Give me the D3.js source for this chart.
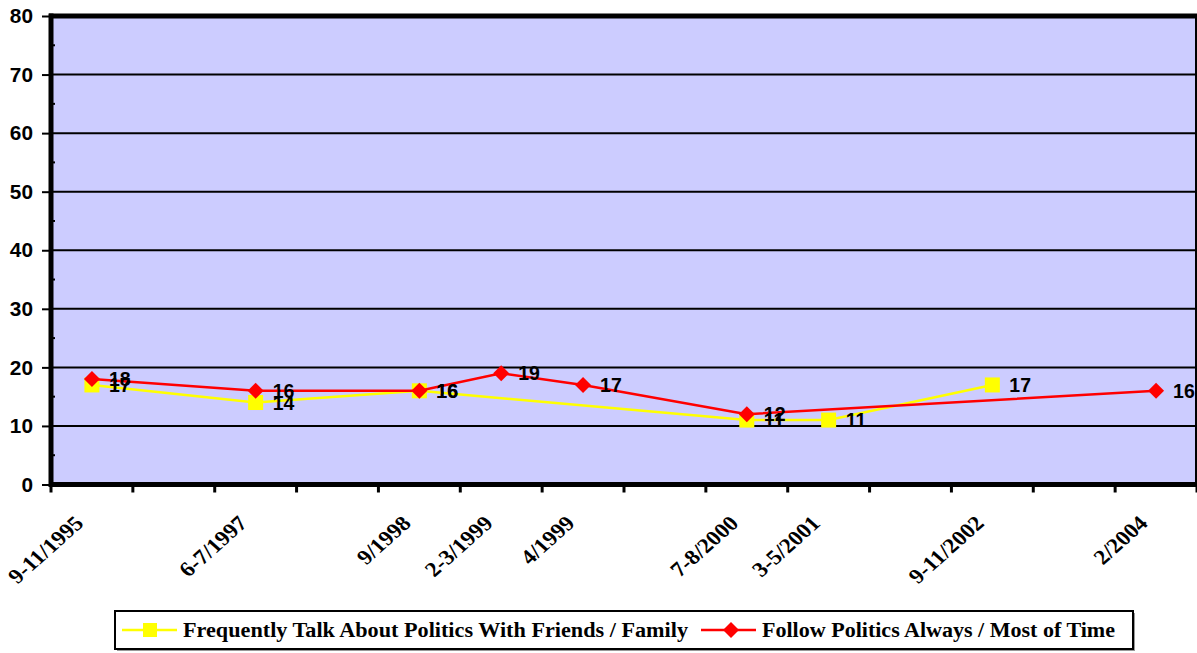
<!DOCTYPE html>
<html><head><meta charset="utf-8">
<script src="https://cdn.jsdelivr.net/npm/d3@7"></script>
<style>body{margin:0;background:#fff}svg{display:block}</style>
</head><body>
<svg id="c" width="1197" height="653"></svg>
<script>
const categories = ["9-11/1995","","6-7/1997","","9/1998","2-3/1999","4/1999","","7-8/2000","3-5/2001","","9-11/2002","","2/2004"];
const talkValues = [17,null,14,null,16,null,null,null,11,11,null,17,null,null];
const followValues = [18,null,16,null,16,19,17,null,12,null,null,null,null,16];
const yTicks = [0,10,20,30,40,50,60,70,80];
const seriesNames = ["Frequently Talk About Politics With Friends / Family","Follow Politics Always / Most of Time"];

const svg = d3.select("#c");
const L = 51, R = 1197, T = 16, B = 484.5;
const x = d3.scaleBand().domain(d3.range(categories.length)).range([L, R]);
const y = d3.scaleLinear().domain([0, 80]).range([B, T]);
const ARIAL = "Arial, 'Liberation Sans', sans-serif";
const TIMES = "'Liberation Serif', 'Times New Roman', serif";

// plot background
svg.append("rect").attr("x", L).attr("y", T).attr("width", R - L).attr("height", B - T).attr("fill", "#CCCCFF");

// gridlines
svg.append("g").selectAll("line").data(yTicks.filter(d => d > 0 && d < 80)).join("line")
  .attr("x1", L).attr("x2", R).attr("y1", d => y(d)).attr("y2", d => y(d))
  .attr("stroke", "#000").attr("stroke-width", 2);

// minor ticks
svg.append("g").selectAll("line").data(d3.range(5, 80, 10)).join("line")
  .attr("x1", L).attr("x2", L + 4).attr("y1", d => y(d)).attr("y2", d => y(d))
  .attr("stroke", "#000").attr("stroke-width", 2);

// top border and right border
svg.append("line").attr("x1", L - 2).attr("x2", R).attr("y1", T).attr("y2", T).attr("stroke", "#000").attr("stroke-width", 5);
svg.append("line").attr("x1", R - 1).attr("x2", R - 1).attr("y1", T).attr("y2", B).attr("stroke", "#000").attr("stroke-width", 2);

// y axis
const yAxis = d3.axisLeft(y).tickValues(yTicks).tickSize(9).tickFormat("");
const gy = svg.append("g").attr("transform", `translate(${L},0)`).call(yAxis);
gy.select(".domain").attr("stroke-width", 5).attr("d", `M0,${T - 2.5}V${B + 2.5}`);
gy.selectAll(".tick line").attr("stroke-width", 2);
svg.append("g").selectAll("text").data(yTicks).join("text")
  .attr("transform", d => `translate(33,${y(d)}) scale(1.04,1)`)
  .attr("text-anchor", "end").attr("dy", "0.36em")
  .attr("font-family", ARIAL).attr("font-weight", "bold").attr("font-size", 20).attr("fill", "#000")
  .text(d => d);

// x axis
const xb = d3.scaleLinear().domain([0, categories.length]).range([L, R]);
const gx = svg.append("g");
gx.append("line").attr("x1", L - 2).attr("x2", R).attr("y1", B).attr("y2", B).attr("stroke", "#000").attr("stroke-width", 5);
gx.selectAll("line.tk").data(d3.range(0, categories.length + 1)).join("line").attr("class", "tk")
  .attr("x1", d => xb(d)).attr("x2", d => xb(d)).attr("y1", B).attr("y2", B + 8)
  .attr("stroke", "#000").attr("stroke-width", 3);
gx.selectAll("text").data(categories.map((c, i) => ({c, i})).filter(d => d.c)).join("text")
  .attr("transform", d => `translate(${x(d.i) + x.bandwidth() / 2 - 7},${B + 40}) scale(1.12,1) rotate(-45)`)
  .attr("text-anchor", "end")
  .attr("font-family", TIMES).attr("font-weight", "bold").attr("font-size", 21)
  .text(d => d.c);

const cx = i => x(i) + x.bandwidth() / 2;
function pts(vals) { return vals.map((v, i) => ({v, i})).filter(d => d.v != null); }

// yellow series
const talk = pts(talkValues);
svg.append("path").datum(talk).attr("d", d3.line().x(d => cx(d.i)).y(d => y(d.v)))
  .attr("fill", "none").attr("stroke", "#FFFF00").attr("stroke-width", 2.5);
svg.append("g").selectAll("rect").data(talk).join("rect")
  .attr("x", d => cx(d.i) - 7.5).attr("y", d => y(d.v) - 7.5).attr("width", 15).attr("height", 15).attr("fill", "#FFFF00");

// red series
const follow = pts(followValues);
svg.append("path").datum(follow).attr("d", d3.line().x(d => cx(d.i)).y(d => y(d.v)))
  .attr("fill", "none").attr("stroke", "#FF0000").attr("stroke-width", 2.5);
svg.append("g").selectAll("path").data(follow).join("path")
  .attr("d", d => { const X = cx(d.i), Y = y(d.v), r = 8; return `M${X},${Y - r}L${X + r},${Y}L${X},${Y + r}L${X - r},${Y}Z`; })
  .attr("fill", "#FF0000");

// labels
function labels(data) {
  svg.append("g").selectAll("text").data(data).join("text")
    .attr("transform", d => `translate(${cx(d.i) + 17},${y(d.v)})`)
    .attr("dy", "0.36em")
    .attr("font-family", ARIAL).attr("font-weight", "bold").attr("font-size", 19.5)
    .text(d => d.v);
}
labels(follow);
labels(talk);

// legend
const lg = svg.append("g");
lg.append("rect").attr("x", 117).attr("y", 613).attr("width", 1018).attr("height", 38).attr("fill", "#999");
lg.append("rect").attr("x", 115).attr("y", 611).attr("width", 1018).attr("height", 38).attr("fill", "#fff").attr("stroke", "#000").attr("stroke-width", 2);
const ly = 630;
lg.append("line").attr("x1", 122).attr("x2", 177).attr("y1", ly).attr("y2", ly).attr("stroke", "#FFFF00").attr("stroke-width", 2.5);
lg.append("rect").attr("x", 150 - 7).attr("y", ly - 7).attr("width", 14).attr("height", 14).attr("fill", "#FFFF00");
lg.append("line").attr("x1", 701).attr("x2", 756).attr("y1", ly).attr("y2", ly).attr("stroke", "#FF0000").attr("stroke-width", 2.5);
lg.append("path").attr("d", `M731,${ly - 8}L739,${ly}L731,${ly + 8}L723,${ly}Z`).attr("fill", "#FF0000");
lg.selectAll("text").data([{t: seriesNames[0], x: 183, w: 505}, {t: seriesNames[1], x: 762, w: 353}]).join("text")
  .attr("x", d => d.x).attr("y", ly).attr("dy", "0.35em")
  .attr("textLength", d => d.w).attr("lengthAdjust", "spacingAndGlyphs")
  .attr("font-family", TIMES).attr("font-weight", "bold").attr("font-size", 20)
  .text(d => d.t);
</script>
</body></html>
